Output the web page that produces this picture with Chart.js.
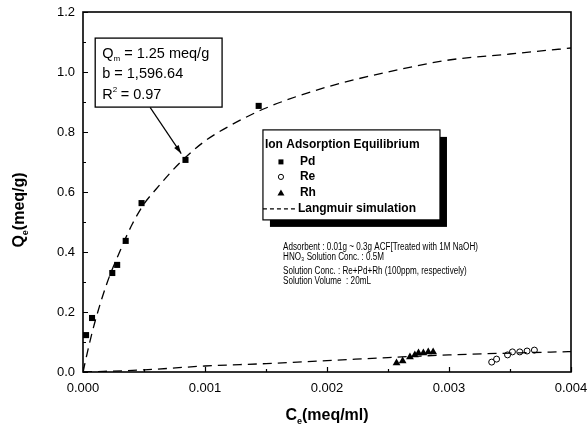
<!DOCTYPE html>
<html>
<head>
<meta charset="utf-8">
<script src="https://cdn.jsdelivr.net/npm/chart.js@4"></script>
<style>
  html, body { margin: 0; padding: 0; background: #fff; }
  #wrap { width: 587px; height: 430px; }
</style>
</head>
<body>
<div id="wrap"><canvas id="c" width="587" height="430"></canvas></div>
<script>
// -- Data --
const pdX = [0.000025, 0.000074, 0.00024, 0.00028, 0.00035, 0.00048, 0.00084, 0.00144];
const pdY = [0.123, 0.18, 0.33, 0.357, 0.437, 0.563, 0.707, 0.887];

const reX = [0.00335, 0.00339, 0.00348, 0.00352, 0.00358, 0.00364, 0.0037];
const reY = [0.033, 0.043, 0.057, 0.067, 0.067, 0.07, 0.073];

const rhX = [0.00257, 0.00262, 0.00268, 0.00272, 0.00275, 0.00279, 0.00283, 0.00287];
const rhY = [0.03, 0.037, 0.05, 0.057, 0.063, 0.063, 0.067, 0.067];

// Langmuir simulation curves (Pd upper, Re/Rh lower)
const langX = [0, 0.00005, 0.0001, 0.0002, 0.0003, 0.0004, 0.0005, 0.0006, 0.0008, 0.001, 0.0012, 0.0015, 0.002, 0.0025, 0.003, 0.0035, 0.004];
const langY = [0, 0.09, 0.17, 0.30, 0.40, 0.49, 0.56, 0.61, 0.70, 0.77, 0.82, 0.88, 0.95, 1.00, 1.04, 1.06, 1.08];
const lowX = [0, 0.0005, 0.001, 0.0015, 0.002, 0.0025, 0.003, 0.0035, 0.004];
const lowY = [0, 0.007, 0.02, 0.028, 0.038, 0.048, 0.057, 0.063, 0.068];

const xTicks = [0, 0.001, 0.002, 0.003, 0.004];
const yTicks = [0, 0.2, 0.4, 0.6, 0.8, 1.0, 1.2];

const legendTitle = 'Ion Adsorption Equilibrium';
const legendItems = ['Pd', 'Re', 'Rh', 'Langmuir simulation'];
const notes = [
  'Adsorbent : 0.01g ~ 0.3g ACF[Treated with 1M NaOH)',
  'HNO\u2083 Solution Conc. : 0.5M',
  'Solution Conc. : Re+Pd+Rh (100ppm, respectively)',
  'Solution Volume  : 20mL'
];

const FONT = '"Liberation Sans", Arial, sans-serif';
const pts = (xs, ys) => xs.map((x, i) => ({ x, y: ys[i] }));

// -- Extra drawing: frame, inward ticks, titles, annotation, legend --
const decorations = {
  id: 'decorations',
  afterDraw(chart) {
    const { ctx, chartArea: a, scales: { x, y } } = chart;
    ctx.save();
    ctx.strokeStyle = '#000';
    ctx.fillStyle = '#000';

    // frame
    ctx.lineWidth = 1.6;
    ctx.strokeRect(a.left, a.top, a.right - a.left, a.bottom - a.top);

    // ticks pointing inward
    ctx.lineWidth = 1.2;
    ctx.beginPath();
    for (let v = 0; v <= 0.0040001; v += 0.0005) {
      const px = Math.round(x.getPixelForValue(v)) + 0.5;
      const len = Math.abs(v / 0.001 - Math.round(v / 0.001)) < 1e-6 ? 5 : 3;
      ctx.moveTo(px, a.bottom); ctx.lineTo(px, a.bottom - len);
    }
    for (let v = 0; v <= 1.2001; v += 0.1) {
      const py = Math.round(y.getPixelForValue(v)) + 0.5;
      const len = Math.abs(v / 0.2 - Math.round(v / 0.2)) < 1e-6 ? 5 : 3;
      ctx.moveTo(a.left, py); ctx.lineTo(a.left + len, py);
    }
    ctx.stroke();

    // axis titles with subscripts
    ctx.textBaseline = 'alphabetic';
    const big = 'bold 16px ' + FONT, small = 'bold 9px ' + FONT;
    ctx.font = big;
    let w1 = ctx.measureText('C').width;
    let w3 = ctx.measureText('(meq/ml)').width;
    ctx.font = small;
    const w2 = ctx.measureText('e').width;
    const xt = x.getPixelForValue(0.002);
    let sx = xt - (w1 + w2 + w3) / 2;
    ctx.font = big;
    ctx.fillText('C', sx, 420);
    ctx.font = small;
    ctx.fillText('e', sx + w1, 424);
    ctx.font = big;
    ctx.fillText('(meq/ml)', sx + w1 + w2, 420);

    ctx.save();
    ctx.translate(24, y.getPixelForValue(0.54));
    ctx.rotate(-Math.PI / 2);
    w1 = ctx.measureText('Q').width;
    w3 = ctx.measureText('(meq/g)').width;
    sx = -(w1 + w2 + w3) / 2;
    ctx.fillText('Q', sx, 0);
    ctx.font = small;
    ctx.fillText('e', sx + w1, 4);
    ctx.font = big;
    ctx.fillText('(meq/g)', sx + w1 + w2, 0);
    ctx.restore();

    // annotation box with Langmuir parameters
    const bx0 = x.getPixelForValue(0.0001), by0 = y.getPixelForValue(1.113);
    const bx1 = x.getPixelForValue(0.00114), by1 = y.getPixelForValue(0.883);
    ctx.fillStyle = '#fff';
    ctx.fillRect(bx0, by0, bx1 - bx0, by1 - by0);
    ctx.lineWidth = 1.3;
    ctx.strokeRect(bx0, by0, bx1 - bx0, by1 - by0);
    ctx.fillStyle = '#000';
    const ann = '14.5px ' + FONT, sub = '8px ' + FONT;
    ctx.font = ann;
    const tx = bx0 + 7;
    ctx.fillText('Q', tx, by0 + 20);
    const qw = ctx.measureText('Q').width;
    ctx.font = sub;
    ctx.fillText('m', tx + qw, by0 + 23);
    const mw = ctx.measureText('m').width;
    ctx.font = ann;
    ctx.fillText(' = 1.25 meq/g', tx + qw + mw, by0 + 20);
    ctx.fillText('b = 1,596.64', tx, by0 + 40);
    ctx.fillText('R', tx, by0 + 61);
    const rw = ctx.measureText('R').width;
    ctx.font = sub;
    ctx.fillText('2', tx + rw, by0 + 54);
    ctx.font = ann;
    ctx.fillText(' = 0.97', tx + rw + 4, by0 + 61);

    // arrow to the Pd point
    const ax0 = x.getPixelForValue(0.00055), ay0 = y.getPixelForValue(0.882);
    const ax1 = x.getPixelForValue(0.000805), ay1 = y.getPixelForValue(0.728);
    ctx.lineWidth = 1.2;
    ctx.beginPath(); ctx.moveTo(ax0, ay0); ctx.lineTo(ax1, ay1); ctx.stroke();
    const ang = Math.atan2(ay1 - ay0, ax1 - ax0);
    ctx.beginPath();
    ctx.moveTo(ax1, ay1);
    ctx.lineTo(ax1 - 9 * Math.cos(ang - 0.3), ay1 - 9 * Math.sin(ang - 0.3));
    ctx.lineTo(ax1 - 9 * Math.cos(ang + 0.3), ay1 - 9 * Math.sin(ang + 0.3));
    ctx.closePath(); ctx.fill();

    // legend box with shadow
    const lx0 = x.getPixelForValue(0.001475), ly0 = y.getPixelForValue(0.807);
    const lx1 = x.getPixelForValue(0.002926), ly1 = y.getPixelForValue(0.507);
    ctx.fillStyle = '#000';
    ctx.fillRect(lx0 + 7, ly0 + 7, lx1 - lx0, ly1 - ly0);
    ctx.fillStyle = '#fff';
    ctx.fillRect(lx0, ly0, lx1 - lx0, ly1 - ly0);
    ctx.lineWidth = 1.2;
    ctx.strokeRect(lx0, ly0, lx1 - lx0, ly1 - ly0);
    ctx.fillStyle = '#000';
    ctx.textBaseline = 'middle';
    ctx.font = 'bold 12px ' + FONT;
    ctx.fillText(legendTitle, lx0 + 2, ly0 + 15);
    const rowY = [ly0 + 32, ly0 + 47, ly0 + 63, ly0 + 79];
    const symX = lx0 + 18;
    legendItems.forEach((label, i) => {
      ctx.fillText(label, lx0 + (i === 3 ? 35 : 37), rowY[i]);
    });
    ctx.fillRect(symX - 2.5, rowY[0] - 2.5, 5, 5);
    ctx.beginPath(); ctx.arc(symX, rowY[1], 2.6, 0, Math.PI * 2);
    ctx.lineWidth = 1; ctx.stroke();
    ctx.beginPath();
    ctx.moveTo(symX, rowY[2] - 3.5); ctx.lineTo(symX + 3.5, rowY[2] + 2.5); ctx.lineTo(symX - 3.5, rowY[2] + 2.5);
    ctx.closePath(); ctx.fill();
    ctx.setLineDash([4, 3]);
    ctx.lineWidth = 1.2;
    ctx.beginPath(); ctx.moveTo(lx0, rowY[3]); ctx.lineTo(lx0 + 33, rowY[3]); ctx.stroke();
    ctx.setLineDash([]);

    // experiment notes (condensed type)
    ctx.font = '10px ' + FONT;
    const nx = x.getPixelForValue(0.00164);
    const ny = [y.getPixelForValue(0.415), y.getPixelForValue(0.382), y.getPixelForValue(0.335), y.getPixelForValue(0.302)];
    notes.forEach((t, i) => {
      ctx.save();
      ctx.translate(nx, ny[i]);
      ctx.scale(0.81, 1);
      ctx.fillText(t, 0, 0);
      ctx.restore();
    });

    ctx.restore();
  }
};

new Chart(document.getElementById('c'), {
  type: 'scatter',
  data: {
    datasets: [
      {
        label: 'Langmuir simulation',
        type: 'line',
        data: pts(langX, langY),
        borderColor: '#000',
        borderWidth: 1.3,
        borderDash: [9, 6],
        pointRadius: 0,
        cubicInterpolationMode: 'monotone',
        fill: false,
      },
      {
        label: 'Langmuir simulation (low)',
        type: 'line',
        data: pts(lowX, lowY),
        borderColor: '#000',
        borderWidth: 1.3,
        borderDash: [9, 6],
        pointRadius: 0,
        cubicInterpolationMode: 'monotone',
        fill: false,
      },
      {
        label: 'Pd',
        data: pts(pdX, pdY),
        pointStyle: 'rect',
        pointRadius: 4.3,
        backgroundColor: '#000',
        borderColor: '#000',
        borderWidth: 0,
      },
      {
        label: 'Re',
        data: pts(reX, reY),
        pointStyle: 'circle',
        pointRadius: 3,
        backgroundColor: '#fff',
        borderColor: '#000',
        borderWidth: 1,
      },
      {
        label: 'Rh',
        data: pts(rhX, rhY),
        pointStyle: 'triangle',
        pointRadius: 4.5,
        backgroundColor: '#000',
        borderColor: '#000',
        borderWidth: 0,
      }
    ]
  },
  options: {
    responsive: false,
    animation: false,
    layout: { padding: { top: 12, right: 16, left: 0, bottom: 0 } },
    plugins: {
      legend: { display: false },
      tooltip: { enabled: false }
    },
    scales: {
      x: {
        type: 'linear',
        min: 0,
        max: 0.004,
        afterFit: s => { s.height = 58; s.paddingLeft = 0; s.paddingRight = 0; },
        afterBuildTicks: s => { s.ticks = xTicks.map(v => ({ value: v })); },
        ticks: {
          color: '#000',
          padding: 9,
          maxRotation: 0,
          font: { family: FONT, size: 13 },
          callback: v => v.toFixed(3)
        },
        grid: { display: false, drawTicks: false },
        border: { display: false }
      },
      y: {
        min: 0,
        max: 1.2,
        afterFit: s => { s.width = 83; s.paddingTop = 0; s.paddingBottom = 0; },
        afterBuildTicks: s => { s.ticks = yTicks.map(v => ({ value: v })); },
        ticks: {
          color: '#000',
          padding: 8,
          font: { family: FONT, size: 13 },
          callback: v => v.toFixed(1)
        },
        grid: { display: false, drawTicks: false },
        border: { display: false }
      }
    }
  },
  plugins: [decorations]
});
</script>
</body>
</html>
